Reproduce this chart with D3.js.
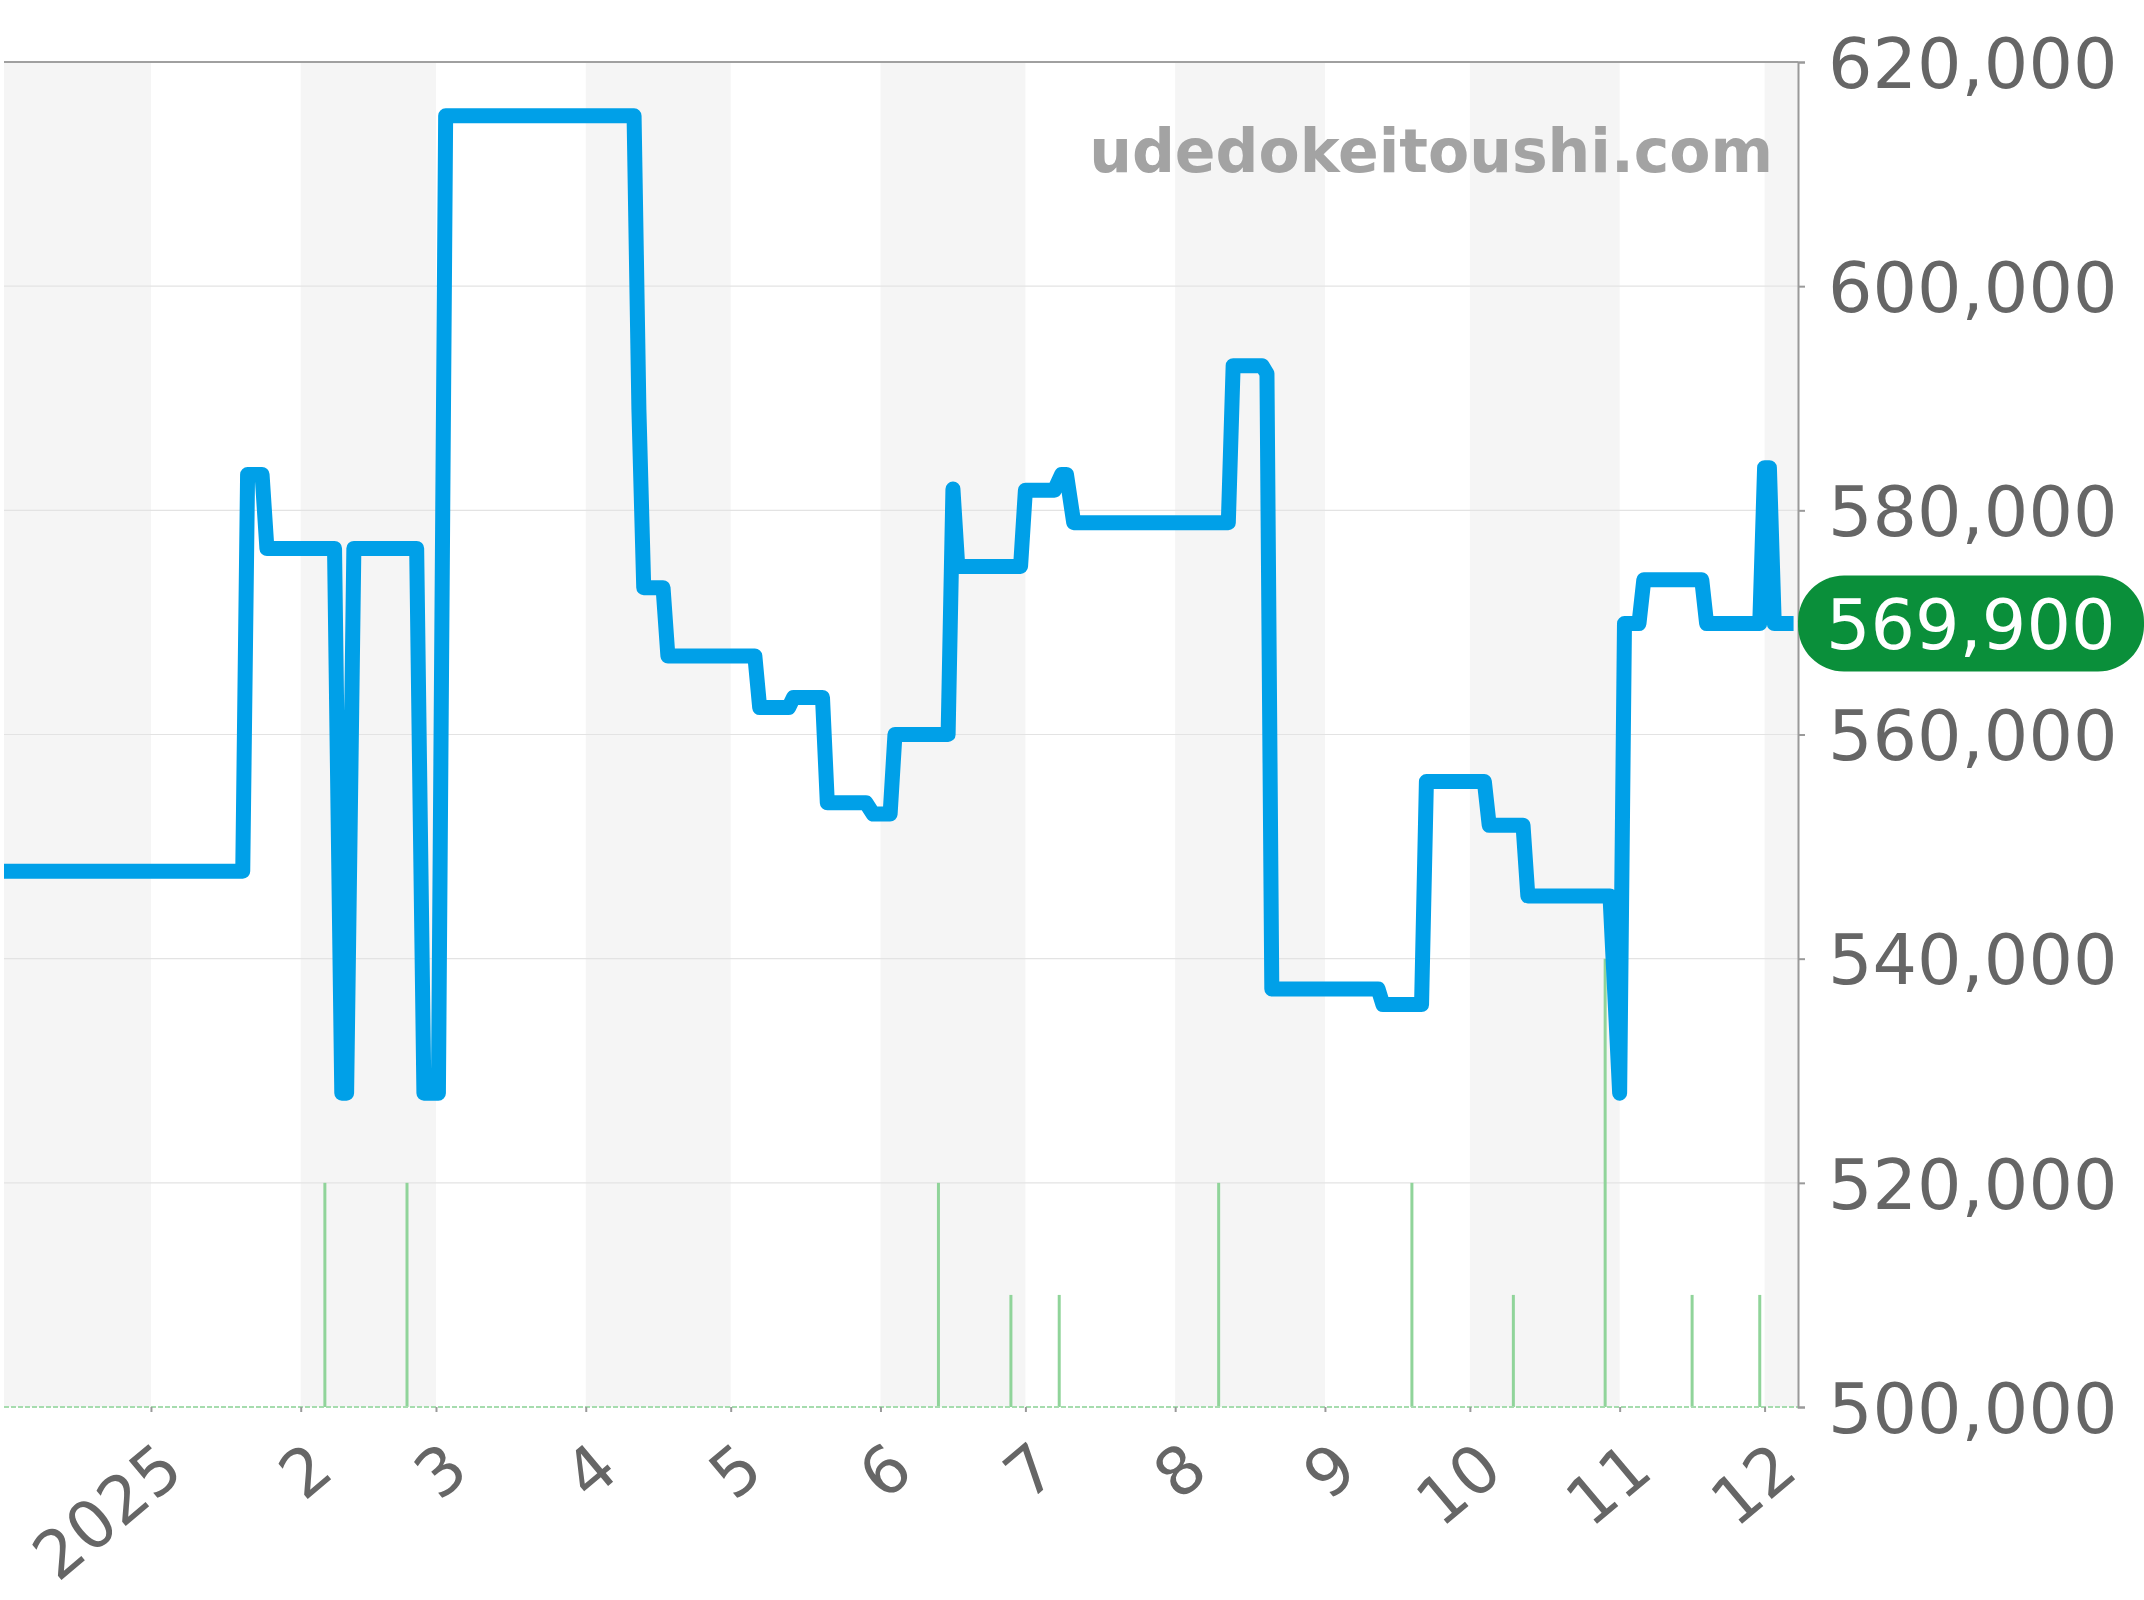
<!DOCTYPE html>
<html>
<head>
<meta charset="utf-8">
<script src="https://cdn.jsdelivr.net/npm/d3@7"></script>
<style>
  html, body { margin: 0; padding: 0; background: #ffffff; }
  svg { display: block; font-family: "DejaVu Sans", sans-serif; }
</style>
</head>
<body>
<svg id="chart" width="2144" height="1600"></svg>
<script>
// ---- data ----
const priceDates = [
  "2024-12-01 00:00","2025-01-20 00:00","2025-01-21 00:00","2025-01-24 00:00","2025-01-25 00:00",
  "2025-02-08 00:00","2025-02-09 12:00","2025-02-10 12:00","2025-02-12 00:00","2025-02-25 00:00",
  "2025-02-26 12:00","2025-03-01 12:00","2025-03-03 00:00","2025-04-11 00:00","2025-04-12 00:00",
  "2025-04-13 00:00","2025-04-17 00:00","2025-04-18 00:00","2025-05-06 00:00","2025-05-07 00:00",
  "2025-05-13 00:00","2025-05-14 00:00","2025-05-20 00:00","2025-05-21 00:00","2025-05-29 00:00",
  "2025-05-30 12:00","2025-06-03 00:00","2025-06-04 00:00","2025-06-15 00:00","2025-06-16 00:00",
  "2025-06-17 00:00","2025-06-30 00:00","2025-07-01 00:00","2025-07-07 00:00","2025-07-08 12:00",
  "2025-07-09 12:00","2025-07-11 00:00","2025-08-12 00:00","2025-08-13 00:00","2025-08-19 00:00",
  "2025-08-20 00:00","2025-08-21 00:00","2025-09-12 00:00","2025-09-13 00:00","2025-09-21 00:00",
  "2025-09-22 00:00","2025-10-04 00:00","2025-10-05 00:00","2025-10-12 00:00","2025-10-13 00:00",
  "2025-10-30 00:00","2025-11-01 00:00","2025-11-02 00:00","2025-11-05 00:00","2025-11-06 00:00",
  "2025-11-18 00:00","2025-11-19 00:00","2025-11-30 00:00","2025-12-01 00:00","2025-12-02 00:00",
  "2025-12-03 00:00","2025-12-07 00:00"
];
const priceValues = [
  547800,547800,583200,583200,576600,
  576600,528000,528000,576600,576600,
  528000,528000,615200,615200,589000,
  573100,573100,567000,567000,562400,
  562400,563300,563300,553900,553900,
  552900,552900,560000,560000,581900,
  575000,575000,581800,581800,583200,
  583200,578900,578900,592900,592900,
  592200,537300,537300,535900,535900,
  555800,555800,551900,551900,545600,
  545600,528000,569900,569900,573800,
  573800,569900,569900,583800,583800,
  569900,569900
];
const volumeDates = [
  "2025-02-06 00:00","2025-02-23 00:00","2025-06-13 00:00","2025-06-28 00:00","2025-07-08 00:00",
  "2025-08-10 00:00","2025-09-19 00:00","2025-10-10 00:00","2025-10-29 00:00","2025-11-16 00:00",
  "2025-11-30 00:00"
];
const volumeCounts = [2,2,2,1,1,2,2,1,4,1,1];
const monthTicks = ["2025-01-01","2025-02-01","2025-03-01","2025-04-01","2025-05-01","2025-06-01",
  "2025-07-01","2025-08-01","2025-09-01","2025-10-01","2025-11-01","2025-12-01"];
const monthLabels = ["2025","2","3","4","5","6","7","8","9","10","11","12"];
const yTicks = [500000,520000,540000,560000,580000,600000,620000];
const currentPrice = 569900;
const watermark = "udedokeitoushi.com";

// ---- setup ----
const parse = d3.timeParse("%Y-%m-%d %H:%M");
const parseDay = d3.timeParse("%Y-%m-%d");
const price = priceDates.map((d, i) => ({ date: parse(d), value: priceValues[i] }));
const volume = volumeDates.map((d, i) => ({ date: parse(d), count: volumeCounts[i] }));
const ticks = monthTicks.map(parseDay);

const plot = { left: 4, right: 1798, top: 62, bottom: 1407 };
const svg = d3.select("#chart");

const x = d3.scaleTime()
  .domain([new Date(2024, 11, 1, 14), new Date(2025, 11, 7, 22)])
  .range([plot.left, plot.right]);
const y = d3.scaleLinear().domain([500000, 620000]).range([plot.bottom, plot.top]);
const yVol = d3.scaleLinear().domain([0, 12]).range([plot.bottom, plot.top]);

svg.append("defs").append("clipPath").attr("id", "clip")
  .append("rect").attr("x", plot.left).attr("y", plot.top - 20)
  .attr("width", plot.right - plot.left).attr("height", plot.bottom - plot.top + 40);

// alternating month bands
const bandEdges = [x.domain()[0], ...ticks, x.domain()[1]];
const bands = [];
for (let i = 0; i < bandEdges.length - 1; i++) {
  bands.push({ a: bandEdges[i], b: bandEdges[i + 1], grey: i % 2 === 0 });
}
svg.append("g").selectAll("rect").data(bands.filter(b => b.grey)).join("rect")
  .attr("x", d => x(d.a)).attr("width", d => x(d.b) - x(d.a))
  .attr("y", plot.top).attr("height", plot.bottom - plot.top)
  .attr("fill", "#f5f5f5");

// gridlines
svg.append("g").selectAll("line").data(yTicks.filter(v => v !== 500000 && v !== 620000)).join("line")
  .attr("x1", plot.left).attr("x2", plot.right)
  .attr("y1", d => y(d)).attr("y2", d => y(d))
  .attr("stroke", "#e3e3e3").attr("stroke-width", 1.2);

// top border
svg.append("line").attr("x1", plot.left).attr("x2", plot.right)
  .attr("y1", y(620000)).attr("y2", y(620000))
  .attr("stroke", "#a0a0a0").attr("stroke-width", 2);

// watermark
svg.append("text").text(watermark)
  .attr("x", 1773).attr("y", 172)
  .attr("text-anchor", "end")
  .attr("font-size", 60).attr("font-weight", "bold")
  .attr("fill", "#a3a3a3");

// volume bars
svg.append("g").selectAll("line").data(volume).join("line")
  .attr("x1", d => x(d.date)).attr("x2", d => x(d.date))
  .attr("y1", yVol(0)).attr("y2", d => yVol(d.count))
  .attr("stroke", "#90d49a").attr("stroke-width", 3);

// baseline (dashed green)
svg.append("line").attr("x1", plot.left).attr("x2", plot.right)
  .attr("y1", yVol(0)).attr("y2", yVol(0))
  .attr("stroke", "#a6dcae").attr("stroke-width", 2).attr("stroke-dasharray", "5,2");

// x axis
const xAxis = d3.axisBottom(x).tickValues(ticks).tickSize(5)
  .tickFormat((d, i) => monthLabels[i]);
const gx = svg.append("g").attr("transform", `translate(0,${plot.bottom})`).call(xAxis);
gx.select(".domain").remove();
gx.selectAll(".tick line").attr("stroke", "#9a9a9a").attr("stroke-width", 2);
gx.selectAll(".tick text")
  .attr("x", 0).attr("y", 0).attr("dy", null)
  .attr("transform", "translate(35,68) rotate(-40)")
  .style("text-anchor", "end")
  .attr("font-size", 66).attr("font-family", "DejaVu Sans")
  .attr("fill", "#666666");

// y axis
const yAxis = d3.axisRight(y).tickValues(yTicks).tickSize(7).tickPadding(23)
  .tickFormat(d3.format(","));
const gy = svg.append("g").attr("transform", `translate(${plot.right},0)`).call(yAxis);
gy.select(".domain").attr("stroke", "#9a9a9a").attr("stroke-width", 2);
gy.selectAll(".tick line").attr("stroke", "#9a9a9a").attr("stroke-width", 2);
gy.selectAll(".tick text").attr("font-size", 70).attr("font-family", "DejaVu Sans")
  .attr("fill", "#666666").attr("dy", "0.36em");

// price line
const line = d3.line().x(d => x(d.date)).y(d => y(d.value));
svg.append("path").datum(price)
  .attr("clip-path", "url(#clip)")
  .attr("d", line)
  .attr("fill", "none")
  .attr("stroke", "#00a0e8")
  .attr("stroke-width", 15)
  .attr("stroke-linejoin", "round")
  .attr("stroke-linecap", "butt");

// current price label
const cy = y(currentPrice);
svg.append("rect").attr("x", plot.right).attr("y", cy - 48)
  .attr("width", 2144 - plot.right).attr("height", 96)
  .attr("rx", 46).attr("ry", 46)
  .attr("fill", "#0a8f3a");
svg.append("text").text(d3.format(",")(currentPrice))
  .attr("x", 1826).attr("y", cy).attr("dy", "0.36em")
  .attr("font-size", 70).attr("fill", "#ffffff");
</script>
</body>
</html>
